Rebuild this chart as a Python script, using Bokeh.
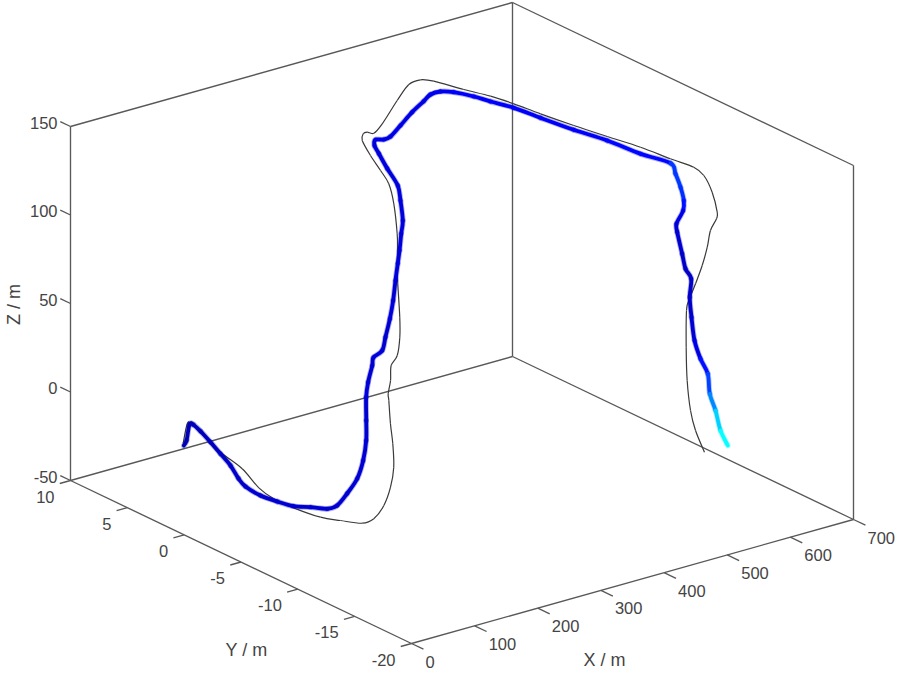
import numpy as np
from bokeh.plotting import figure
from bokeh.embed import file_html
from bokeh.resources import INLINE
from bokeh.core.properties import value

# Estimated flight path (thick, coloured by speed)
path_x = [0,7,14,21,29,36,43,50,57,64,71,79,86,93,100,110,121,131,142,152,162,173,
183,194,204,215,225,235,246,256,267,277,288,298,308,319,329,340,350,362,375,388,400,412,
425,438,450,470,491,511,532,552,573,593,614,634,635,636,637,638,638,639,640,641,642,643,
644,645,646,646,647,648,649,650]
path_y = [0.03,0.18,0.31,0.37,0.17,-0.32,-0.81,-1.3,-1.61,-1.84,-2.77,-3.8,-4.84,-5.95,-7.03,-7.35,-7.62,
-7.95,-7.86,-7.57,-7.02,-6.4,-6.02,-5.77,-5.32,-5.48,-5.21,-5.04,-4.72,-4.37,-3.96,-3.56,-3.1,-2.68,
-1.92,-1.07,0.41,1.76,2.7,3.28,3.27,3.4,3.19,2.83,2.53,2.66,2.45,2.39,1.79,1.44,0.55,
-0.68,-2.45,-4.28,-6.04,-7.57,-7.95,-8.34,-8.57,-8.46,-7.87,-7.88,-8.26,-8.5,-8.94,-8.76,-8.86,-9.07,
-9.54,-10.18,-10.3,-10.75,-11.13,-11.72]
path_z = [0.37,2.03,9.99,9.09,5.11,-0.29,-6.04,-11.85,-18.92,-23.45,-26.38,-27.42,-27.57,-25.44,-23.72,-21.87,-15.36,
-6.89,1.92,11.32,19.92,30.1,36.41,43.95,46.12,49.44,55.14,63.99,72.27,81.49,88.74,93.84,100.92,105.99,
113.97,118.73,122.77,126.0,126.65,126.9,125.79,125.77,131.44,138.87,144.7,146.78,147.92,145.71,143.0,139.27,136.32,
132.47,129.0,126.56,122.36,119.74,114.83,108.34,101.44,95.36,86.04,81.21,70.09,62.23,57.85,46.81,35.7,23.07,
14.08,7.58,-3.45,-11.61,-21.83,-28.61]
path_speed = [.05,.05,.05,.05,.06,.06,.06,.07,.07,.07,.08,.08,.08,.08,.08,.08,.08,
.08,.08,.08,.08,.08,.09,.08,.08,.09,.08,.08,.09,.08,.09,.09,.09,.09,
.09,.09,.09,.09,.09,.09,.1,.1,.1,.1,.1,.1,.11,.11,.12,.12,.12,
.12,.12,.12,.13,.13,.18,.18,.17,.14,.1,.08,.08,.07,.07,.07,.07,.08,
.1,.14,.19,.26,.33,.38]

# Estimated reference track (thin line)
ref_x = [0,11,22,33,44,55,65,76,87,98,109,120,130,140,150,160,170,180,190,200,210,220,
230,240,250,260,270,280,290,300,310,320,330,340,354,369,383,397,411,426,440,462,484,506,
528,550,572,594,616,638,660,661,663,664,665,667,668,669,671,672,673,675,676,677,679,680]
ref_y = [0.09,0.34,0.6,0.13,-0.75,-2.05,-2.96,-3.66,-4.79,-6.55,-7.7,-9.0,-9.46,-9.79,-9.82,-9.55,-8.91,
-8.15,-7.45,-6.84,-6.49,-5.99,-5.97,-5.64,-5.08,-4.35,-3.74,-3.21,-2.63,-1.78,-0.78,0.5,1.94,3.22,
3.91,4.4,4.59,4.63,4.09,3.9,3.65,3.7,2.29,1.16,0.33,-0.8,-2.5,-4.22,-5.93,-7.34,-8.17,
-9.0,-9.62,-10.01,-9.89,-9.25,-8.91,-8.41,-7.71,-7.07,-6.81,-6.67,-6.7,-6.94,-7.27,-8.0]
ref_z = [1.34,10.57,8.68,2.41,-5.41,-11.9,-20.86,-26.0,-28.74,-29.74,-29.18,-27.82,-24.91,-17.4,-7.96,1.53,11.77,
19.74,29.74,30.66,36.09,42.05,46.61,54.95,63.54,79.16,85.67,92.48,99.13,112.46,119.7,122.27,125.33,128.86,
129.13,127.05,124.48,128.27,141.7,149.81,151.84,148.69,146.15,143.62,139.66,135.27,131.7,128.55,125.55,121.14,116.74,
114.48,106.77,96.55,92.36,83.59,72.99,61.03,48.34,36.83,30.29,8.93,-9.89,-26.21,-36.7,-46.8]

x_ticks = [0,100,200,300,400,500,600,700]
y_ticks = [10,5,0,-5,-10,-15,-20]
z_ticks = [150,100,50,0,-50]
x_lim = (0,700); y_lim = (-20,10); z_lim = (-50,150)
INK = "#444444"

def proj(x,y,z):
    x,y,z = np.asarray(x,float),np.asarray(y,float),np.asarray(z,float)
    u = 411 + 442/700*x - 341/30*(y+20)
    v = 643 - 124/700*x - 163/30*(y+20) - 354/200*(z+50)
    return u,v

def jet(t):
    b = min(1.0,0.5+t*4) if t<0.375 else 1.0
    g = min(1.0,max(0.0,(t-0.125)*4))
    r = min(1.0,max(0.0,(t-0.375)*4))
    return "#%02x%02x%02x"%(int(r*255),int(g*255),int(b*255))

def smooth(u,v):
    # Bezier control points so that the curve runs through every data point
    U = np.r_[u[0],u,u[-1]]; V = np.r_[v[0],v,v[-1]]
    c1x = U[1:-2]+(U[2:-1]-U[:-3])/6; c1y = V[1:-2]+(V[2:-1]-V[:-3])/6
    c2x = U[2:-1]-(U[3:]-U[1:-2])/6; c2y = V[2:-1]-(V[3:]-V[1:-2])/6
    return dict(x0=u[:-1].tolist(),y0=v[:-1].tolist(),x1=u[1:].tolist(),y1=v[1:].tolist(),
                cx0=c1x.tolist(),cy0=c1y.tolist(),cx1=c2x.tolist(),cy1=c2y.tolist())

p = figure(width=897,height=673,x_range=(0,897),y_range=(673,0),output_backend="svg",
           toolbar_location=None,min_border=0,outline_line_color=None,background_fill_color="white")
p.axis.visible=False
p.grid.visible=False

def seg(a,b,color="#585858",w=1.35):
    u0,v0 = proj(*a); u1,v1 = proj(*b)
    p.segment([float(u0)],[float(v0)],[float(u1)],[float(v1)],line_color=color,line_width=w)

xa,xb = x_lim; ya,yb = y_lim; za,zb = z_lim
seg((xa,yb,za),(xa,yb,zb)); seg((xb,yb,za),(xb,yb,zb)); seg((xb,ya,za),(xb,ya,zb))
seg((xa,yb,zb),(xb,yb,zb)); seg((xb,yb,zb),(xb,ya,zb))
seg((xa,yb,za),(xb,yb,za)); seg((xb,yb,za),(xb,ya,za))
seg((xa,yb,za),(xa,ya,za)); seg((xa,ya,za),(xb,ya,za))
for t in x_ticks: seg((t,ya,za),(t,ya-1.05,za))
for t in y_ticks: seg((xa,t,za),(xa-17,t,za))
for t in z_ticks: seg((xa,yb,t),(xa,yb+0.9,t))

def labels(xs,ys,zs,txt,align,dx,dy):
    u,v = proj(xs,ys,zs)
    p.text(u.tolist(),v.tolist(),text=txt,text_align=align,text_baseline="middle",x_offset=dx,y_offset=dy,
           text_font=value("Liberation Sans"),text_font_size="16.5px",text_color=INK)
n=len(x_ticks); labels(x_ticks,[ya]*n,[za]*n,[str(t) for t in x_ticks],"left",14,18)
n=len(y_ticks); labels([xa]*n,y_ticks,[za]*n,[str(t) for t in y_ticks],"right",-16,16)
n=len(z_ticks); labels([xa]*n,[yb]*n,z_ticks,[str(t) for t in z_ticks],"right",-13,-4)

def title(u,v,t,angle=0):
    p.text([u],[v],text=[t],text_align="center",text_baseline="middle",angle=angle,
           text_font=value("Liberation Sans"),text_font_size="18px",text_color=INK)
title(246,649,"Y / m"); title(604,659,"X / m"); title(13,304,"Z / m",np.pi/2)

ru,rv = proj(ref_x,ref_y,ref_z)
p.bezier(**smooth(ru,rv),line_color="#3a3a3a",line_width=1.2)
pu,pv = proj(path_x,path_y,path_z)
cols = [jet(s) for s in path_speed]
sm = smooth(pu,pv)
p.bezier(**sm,line_color=cols[1:],line_width=5.6,line_alpha=0.3,line_cap="round")
p.bezier(**sm,line_color=cols[1:],line_width=3.8,line_cap="round")

open("out.html","w").write(file_html(p,INLINE))
